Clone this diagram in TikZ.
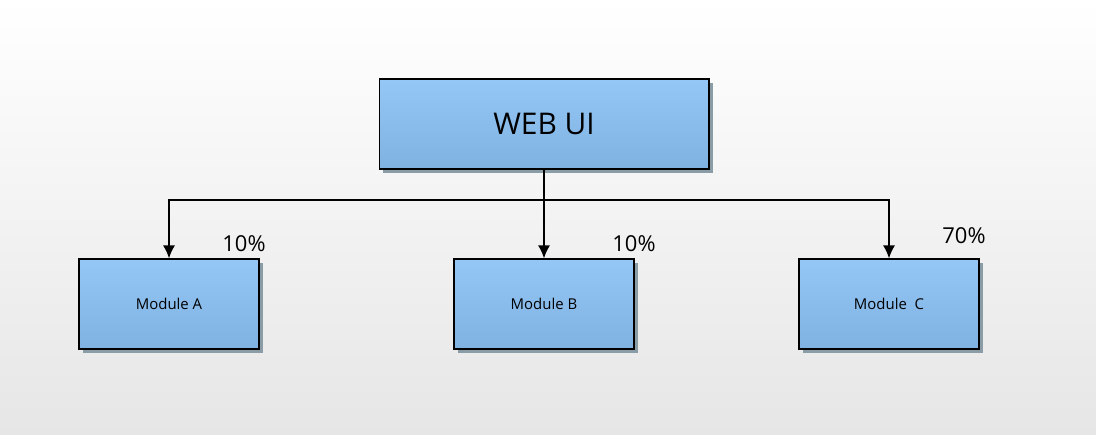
\documentclass[tikz,border=0pt]{standalone}
\usepackage{fontspec}
\setmainfont{Open Sans}
\usetikzlibrary{arrows.meta,shadows}
\definecolor{boxtop}{HTML}{94C7F6}
\definecolor{boxbot}{HTML}{7FB1E1}
\definecolor{shade}{HTML}{8A9CA6}
\definecolor{bgbot}{HTML}{E6E6E6}
\begin{document}
\begin{tikzpicture}[x=0.02cm, y=-0.02cm, every node/.style={font=\normalsize}]
  \tikzstyle{unit}=[draw,line width=0.6pt,top color=boxtop,bottom color=boxbot,align=center,
    drop shadow={shadow xshift=0.08cm,shadow yshift=-0.08cm,fill=shade,opacity=1}]
  \tikzstyle{share}=[font=\fontsize{12.5}{15}\selectfont]
  \tikzstyle{link}=[-{Latex[length=7.5pt,width=7pt]},line width=1.1pt]
  % background
  \fill[top color=white,bottom color=bgbot] (0,0) rectangle (1096,435);
  \useasboundingbox (0,0) rectangle (1096,435);
  \node[unit,minimum width=6.6cm,minimum height=1.8cm,font=\fontsize{17}{20}\selectfont] (web) at (544,124) {WEB UI};
  \node[unit,minimum width=3.6cm,minimum height=1.8cm,font=\fontsize{8.5}{10}\selectfont] (a) at (169,304) {Module A};
  \node[unit,minimum width=3.6cm,minimum height=1.8cm,font=\fontsize{8.5}{10}\selectfont] (b) at (544,304) {Module B};
  \node[unit,minimum width=3.6cm,minimum height=1.8cm,font=\fontsize{8.5}{10}\selectfont] (c) at (889,304) {Module\ \ C};
  \coordinate (bus) at (544,200);
  \draw[line width=1.1pt] (web) -- (bus);
  \draw[link] (bus) -| (a); \draw[link] (bus) -- (b); \draw[link] (bus) -| (c);
  \node[share] (pa) at (244,244) {10\%};
  \node[share] (pb) at (634,244) {10\%};
  \node[share] (pc) at (964,236) {70\%};
\end{tikzpicture}
\end{document}
